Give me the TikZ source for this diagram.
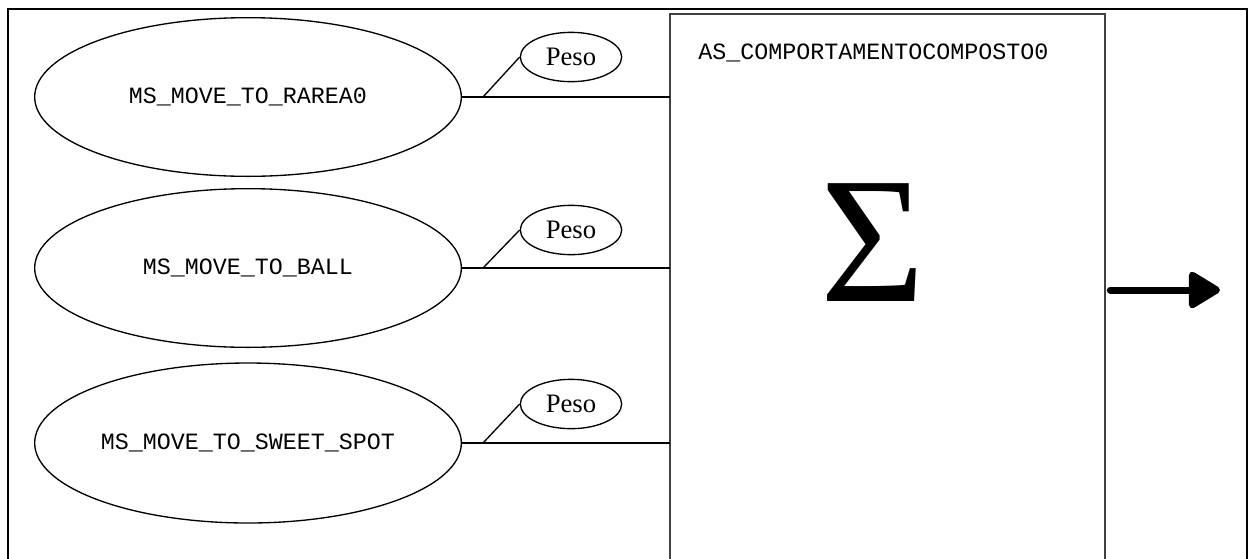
\documentclass[tikz,border=0pt]{standalone}
\usepackage{fontspec}
\setmainfont{Liberation Serif}
\setmonofont{Liberation Mono}
\usepackage{tikz}
\usetikzlibrary{positioning,shapes.geometric,arrows.meta,calc}

\tikzset{
  msnode/.style={draw, ellipse, line width=1pt, inner sep=0pt, minimum width=320pt, minimum height=119pt,
    font=\ttfamily\fontsize{17.5}{20}\selectfont},
  pesonode/.style={draw, ellipse, line width=1pt, inner sep=0pt, minimum width=76pt, minimum height=37pt,
    font=\rmfamily\fontsize{20}{22}\selectfont},
  link/.style={line width=1pt},
}

\begin{document}
\begin{tikzpicture}[x=0.75pt,y=0.75pt,yscale=-1,xscale=1]
            \useasboundingbox (0,0) rectangle (1249,558);
            \clip (0,0) rectangle (1249,558);
            %Frame
            \draw [line width=1.1pt] (8,580) -- (8,9) -- (1247,9) -- (1247,580) ;
            %Shape: Box
            \node [draw=black!75, line width=1.3pt, outer sep=0pt, anchor=north west,
                   minimum width=326.25pt, minimum height=430pt] (comp) at (670,14) {};
            % Text Node
            \node [anchor=west, inner sep=0pt, font=\ttfamily\fontsize{17.5}{20}\selectfont] (title) at (698,53) {AS\_COMPORTAMENTOCOMPOSTO0};
            % Text Node
            \node [inner sep=0pt, font=\rmfamily\fontsize{135}{140}\selectfont] (sigma) at (872.5,242.5) {Σ};
            %Ellipses
            \node [msnode] (rarea) at (248,97) {MS\_MOVE\_TO\_RAREA0};
            \node [msnode] (ball) at (248,268) {MS\_MOVE\_TO\_BALL};
            \node [msnode, minimum height=120pt] (sweet) at (248,443) {MS\_MOVE\_TO\_SWEET\_SPOT};
            %Weights
            \node [pesonode] (peso1) at ($(rarea.east)+(109,-40)$) {Peso};
            \node [pesonode] (peso2) at ($(ball.east)+(109,-38)$) {Peso};
            \node [pesonode] (peso3) at ($(sweet.east)+(109,-39)$) {Peso};
            %Straight Lines
            \draw [link] (rarea.east) -- (rarea.east -| comp.west) ;
            \draw [link] (ball.east) -- (ball.east -| comp.west) ;
            \draw [link] (sweet.east) -- (sweet.east -| comp.west) ;
            \coordinate (j1) at ($(rarea.east)+(21,0)$);
            \coordinate (j2) at ($(ball.east)+(21,0)$);
            \coordinate (j3) at ($(sweet.east)+(21,0)$);
            \draw [link] (j1) -- (peso1.west) ;
            \draw [link] (j2) -- (peso2.west) ;
            \draw [link] (j3) -- (peso3.west) ;
            %Output arrow
            \coordinate (out) at (1220,290);
            \draw [line width=5.25pt, line cap=round, -{Triangle[length=26pt,width=30pt,round]}] ([xshift=4pt]comp.east |- out) -- (out) ;
        \end{tikzpicture}
\end{document}
